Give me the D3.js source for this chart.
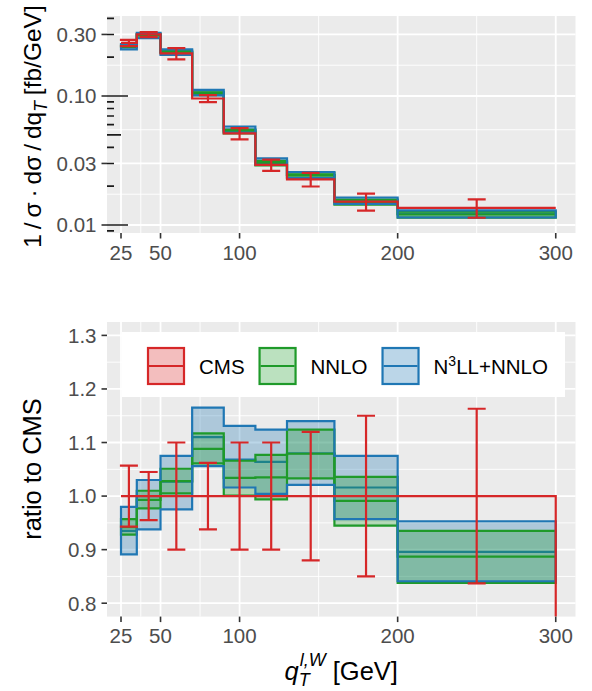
<!DOCTYPE html>
<html><head><meta charset="utf-8">
<script src="https://cdn.jsdelivr.net/npm/d3@7"></script>
<style>
body{margin:0;background:#fff}
text{font-family:"Liberation Sans",Arial,Helvetica,sans-serif}
</style>
</head><body>
<svg id="c" width="592" height="691"></svg>
<script>
// ---------------- data ----------------
const binEdges   = [25, 35, 50, 70, 90, 110, 130, 160, 200, 300];
const cmsValue   = [0.258, 0.300, 0.214, 0.0956, 0.0513, 0.0292, 0.0226, 0.0152, 0.0136];
const cmsRelErr  = [0.057, 0.045, 0.100, 0.062, 0.100, 0.100, 0.120, 0.150, 0.163];
// ratios to CMS
const nnloLo  = [0.928, 0.977, 1.005, 1.061, 1.001, 0.994, 1.033, 0.945, 0.838];
const nnloHi  = [0.957, 1.010, 1.051, 1.117, 1.066, 1.077, 1.124, 1.036, 0.935];
const nnloMid = [0.942, 0.993, 1.028, 1.088, 1.034, 1.035, 1.079, 0.991, 0.887];
const n3llLo  = [0.891, 0.938, 0.975, 1.056, 1.016, 1.004, 1.021, 0.957, 0.841];
const n3llHi  = [0.980, 1.030, 1.075, 1.165, 1.131, 1.124, 1.140, 1.075, 0.953];
const n3llMid = [0.935, 1.000, 1.027, 1.110, 1.068, 1.064, 1.080, 1.016, 0.896];
const xTicks = [25, 50, 100, 200, 300];
const xMinor = [37.5, 75, 150, 250];
const yTopTicks = [0.01, 0.03, 0.10, 0.30];
const yTopLabels = ["0.01", "0.03", "0.10", "0.30"];
const yRatTicks = [0.8, 0.9, 1.0, 1.1, 1.2, 1.3];
const yRatLabels = ["0.8", "0.9", "1.0", "1.1", "1.2", "1.3"];
const yRatMinor = [0.85, 0.95, 1.05, 1.15, 1.25];
const seriesNames = ["CMS", "NNLO", "N3LL+NNLO"];

// ---------------- style ----------------
const RED = "#d62728", GREEN = "#1f9a2a", BLUE = "#1f77b4";
const PANEL = "#EBEBEB", TICKTXT = "#4D4D4D", TICK = "#333333";
const FS = 20.5, TFS = 25.5, LW = 2.2;

const svg = d3.select("#c");
const px0 = 107, px1 = 575.5;
const topP = {y0: 16, y1: 233}, botP = {y0: 322, y1: 616.6};
const x = d3.scaleLinear().domain([16.14, 312.5]).range([px0, px1]);
const yT = d3.scaleLog().domain([0.00867, 0.417]).range([topP.y1, topP.y0]);
const yR = d3.scaleLinear().domain([0.775, 1.325]).range([botP.y1, botP.y0]);

function stepPts(vals) {
  const p = [];
  vals.forEach((v, i) => { p.push([binEdges[i], v]); p.push([binEdges[i + 1], v]); });
  return p;
}
const mids = binEdges.slice(0, -1).map((e, i) => (e + binEdges[i + 1]) / 2);

function panel(P, y, id, majors, minors) {
  const g = svg.append("g");
  svg.append("clipPath").attr("id", id).append("rect")
    .attr("x", px0).attr("y", P.y0).attr("width", px1 - px0).attr("height", P.y1 - P.y0);
  g.append("rect").attr("x", px0).attr("y", P.y0).attr("width", px1 - px0).attr("height", P.y1 - P.y0).attr("fill", PANEL);
  const grid = g.append("g").attr("stroke", "#fff");
  minors.forEach(v => grid.append("line").attr("x1", px0).attr("x2", px1).attr("y1", y(v)).attr("y2", y(v)).attr("stroke-width", 0.9));
  xMinor.forEach(v => grid.append("line").attr("x1", x(v)).attr("x2", x(v)).attr("y1", P.y0).attr("y2", P.y1).attr("stroke-width", 0.9));
  majors.forEach(v => grid.append("line").attr("x1", px0).attr("x2", px1).attr("y1", y(v)).attr("y2", y(v)).attr("stroke-width", 1.8));
  xTicks.forEach(v => grid.append("line").attr("x1", x(v)).attr("x2", x(v)).attr("y1", P.y0).attr("y2", P.y1).attr("stroke-width", 1.8));
  xTicks.forEach(v => {
    svg.append("line").attr("x1", x(v)).attr("x2", x(v)).attr("y1", P.y1).attr("y2", P.y1 + 5.5).attr("stroke", TICK).attr("stroke-width", 1.6);
    svg.append("text").attr("x", x(v)).attr("y", P.y1 + 26.5).attr("text-anchor", "middle")
      .attr("font-size", FS).attr("fill", TICKTXT).text(v);
  });
  return g.append("g").attr("clip-path", `url(#${id})`);
}

function yAxis(P, y, ticks, labels) {
  ticks.forEach((v, i) => {
    svg.append("line").attr("x1", px0 - 5.5).attr("x2", px0).attr("y1", y(v)).attr("y2", y(v)).attr("stroke", TICK).attr("stroke-width", 1.6);
    svg.append("text").attr("x", px0 - 10.5).attr("y", y(v)).attr("dy", "0.36em").attr("text-anchor", "end")
      .attr("font-size", FS).attr("fill", TICKTXT).text(labels[i]);
  });
}

function drawSeries(g, y, lo, hi, mid, color, part) {
  const line = d3.line().x(d => x(d[0])).y(d => y(d[1]));
  const poly = stepPts(hi).concat(stepPts(lo).reverse());
  if (part === "fill") g.append("path").attr("d", line(poly) + "Z").attr("fill", color).attr("fill-opacity", 0.3).attr("stroke", "none");
  if (part === "mid") g.append("path").attr("d", line(stepPts(mid))).attr("fill", "none").attr("stroke", color).attr("stroke-width", LW);
  if (part === "outline") g.append("path").attr("d", line(poly) + "Z").attr("fill", "none").attr("stroke", color).attr("stroke-width", LW);
}

function drawAll(g, y, tr) {
  const m = arr => arr.map((r, i) => tr(r, i));
  const B = [m(n3llLo), m(n3llHi), m(n3llMid)];
  const G = [m(nnloLo), m(nnloHi), m(nnloMid)];
  drawSeries(g, y, ...B, BLUE, "fill");
  drawSeries(g, y, ...B, BLUE, "mid");
  drawSeries(g, y, ...G, GREEN, "fill");
  drawSeries(g, y, ...G, GREEN, "mid");
  drawSeries(g, y, ...G, GREEN, "outline");
  drawSeries(g, y, ...B, BLUE, "outline");
}

function errorbars(g, y, center, err) {
  mids.forEach((xm, i) => {
    const c = center[i], lo = c * (1 - err[i]), hi = c * (1 + err[i]);
    const e = g.append("g").attr("stroke", RED).attr("stroke-width", LW);
    e.append("line").attr("x1", x(xm)).attr("x2", x(xm)).attr("y1", y(lo)).attr("y2", y(hi));
    e.append("line").attr("x1", x(xm) - 9).attr("x2", x(xm) + 9).attr("y1", y(lo)).attr("y2", y(lo));
    e.append("line").attr("x1", x(xm) - 9).attr("x2", x(xm) + 9).attr("y1", y(hi)).attr("y2", y(hi));
  });
}

// ---------------- top panel ----------------
const topMinor = yTopTicks.slice(0, -1).map((v, i) => Math.sqrt(v * yTopTicks[i + 1]));
const gT = panel(topP, yT, "clipT", yTopTicks, topMinor);
const [dLo, dHi] = yT.domain();
for (let k = -3; k <= 0; k++) for (let mm = 1; mm <= 9; mm++) {
  const v = mm * Math.pow(10, k);
  if (v < dLo || v > dHi) continue;
  const len = mm === 1 ? 21 : (mm === 5 ? 14 : 7);
  gT.append("line").attr("x1", px0).attr("x2", px0 + len).attr("y1", yT(v)).attr("y2", yT(v))
    .attr("stroke", "#1a1a1a").attr("stroke-width", 1.6);
}
drawAll(gT, yT, (r, i) => r * cmsValue[i]);
gT.append("path").attr("d", d3.line().x(d => x(d[0])).y(d => yT(d[1]))(stepPts(cmsValue)))
  .attr("fill", "none").attr("stroke", RED).attr("stroke-width", LW);
errorbars(gT, yT, cmsValue, cmsRelErr);
yAxis(topP, yT, yTopTicks, yTopLabels);

// ---------------- ratio panel ----------------
const gR = panel(botP, yR, "clipR", yRatTicks, yRatMinor);
drawAll(gR, yR, r => r);
const ones = cmsValue.map(() => 1);
const redPts = stepPts(ones).concat([[binEdges[binEdges.length - 1], 0]]);
gR.append("path").attr("d", d3.line().x(d => x(d[0])).y(d => yR(d[1]))(redPts))
  .attr("fill", "none").attr("stroke", RED).attr("stroke-width", LW);
errorbars(gR, yR, ones, cmsRelErr);
yAxis(botP, yR, yRatTicks, yRatLabels);

// legend
const lg = svg.append("g");
lg.append("rect").attr("x", 122).attr("y", 332).attr("width", 565 - 122).attr("height", 397 - 332).attr("fill", "#fff");
const legColors = [RED, GREEN, BLUE];
let lx = 147; const ly = 347, ks = 38;
seriesNames.forEach((name, i) => {
  const c = legColors[i];
  lg.append("rect").attr("x", lx + 1).attr("y", ly + 1).attr("width", ks - 2).attr("height", ks - 2)
    .attr("fill", c).attr("fill-opacity", 0.3).attr("stroke", c).attr("stroke-width", LW);
  lg.append("line").attr("x1", lx + 2).attr("x2", lx + ks - 2).attr("y1", ly + ks / 2).attr("y2", ly + ks / 2)
    .attr("stroke", c).attr("stroke-width", LW);
  const t = lg.append("text").attr("x", lx + ks + 14).attr("y", ly + ks / 2 + 7.5).attr("font-size", FS).attr("fill", "#000");
  if (name === "N3LL+NNLO") {
    t.append("tspan").text("N");
    t.append("tspan").attr("font-size", 14).attr("dy", -8).text("3");
    t.append("tspan").attr("dy", 8).text("LL+NNLO");
  } else t.text(name);
  lx = lx + ks + 14 + t.node().getComputedTextLength() + 14;
});

// axis titles
const yt1 = svg.append("text").attr("transform", `translate(40.5,126.5) rotate(-90)`).attr("text-anchor", "middle")
  .attr("font-size", 24.5).attr("fill", "#000");
yt1.append("tspan").text("1\u2009/\u2009σ\u2009·\u2009dσ\u2009/\u2009dq");
yt1.append("tspan").attr("font-size", 17.5).attr("font-style", "italic").attr("dy", 6).text("T");
yt1.append("tspan").attr("dy", -6).attr("dx", 6).text("[fb/GeV]");

svg.append("text").attr("transform", `translate(40.5,469) rotate(-90)`).attr("text-anchor", "middle")
  .attr("font-size", TFS).attr("fill", "#000").text("ratio to CMS");

// x title: q_T^{l,W} [GeV]
const xt = svg.append("g");
const q = xt.append("text").attr("y", 680).attr("font-size", TFS).attr("font-style", "italic").text("q");
const wq = q.node().getComputedTextLength();
const sub = xt.append("text").attr("x", wq).attr("y", 686).attr("font-size", 18).attr("font-style", "italic").text("T");
const sup = xt.append("text").attr("x", wq + 1).attr("y", 666).attr("font-size", 18).attr("font-style", "italic").text("l,W");
const wss = Math.max(sub.node().getComputedTextLength(), sup.node().getComputedTextLength() + 1);
const gv = xt.append("text").attr("x", wq + wss + 7).attr("y", 680).attr("font-size", TFS).text("[GeV]");
const total = wq + wss + 7 + gv.node().getComputedTextLength();
xt.attr("transform", `translate(${(px0 + px1) / 2 - total / 2},0)`);
</script>
</body></html>
